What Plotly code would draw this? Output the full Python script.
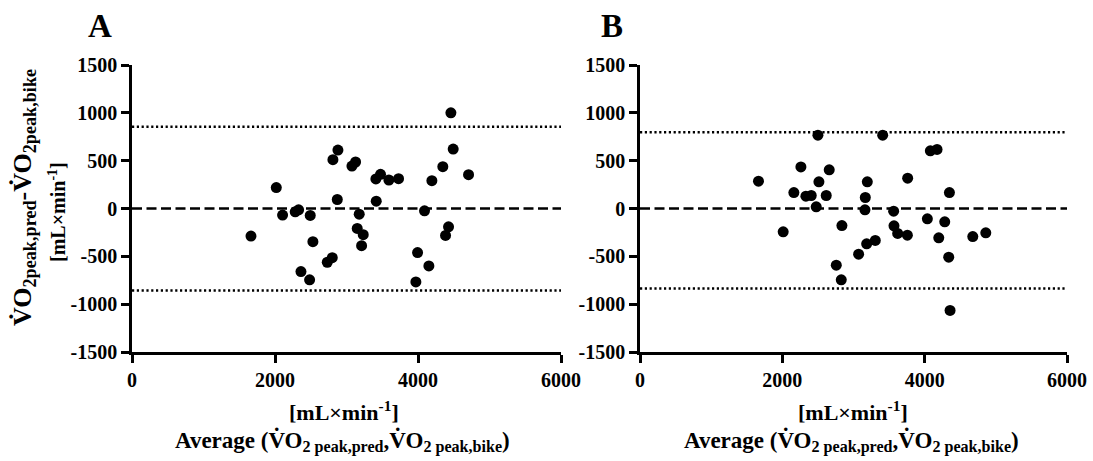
import plotly.graph_objects as go

# ---- Data ----
a_avg = [4460, 2880, 2810, 3076, 3127, 4492, 4347, 4707, 4194, 3411, 3476, 3593,
         3728, 2018, 2871, 3416, 2106, 2283, 2330, 2493, 3178, 4091, 1664, 3150,
         3234, 3211, 2530, 4427, 4385, 2731, 2801, 2363, 2484, 3994, 4152, 3970]
a_diff = [1000, 611, 510, 444, 486, 621, 437, 354, 291, 309, 357, 298,
          312, 219, 94, 76, -69, -35, -14, -73, -59, -24, -288, -208,
          -274, -389, -347, -191, -281, -562, -514, -659, -746, -461, -600, -767]
a_mean = 0
a_loa = [855, -857]

b_avg = [2500, 3410, 4080, 4174, 1665, 2261, 2659, 2514, 3194, 3761, 2162, 2331,
         2406, 2617, 3166, 4348, 2476, 3161, 3564, 4038, 4282, 2837, 2012, 3569,
         3621, 3757, 4198, 4676, 4859, 3306, 3185, 3072, 4338, 2758, 2828, 4357]
b_diff = [766, 766, 603, 617, 286, 435, 404, 279, 279, 317, 167, 129,
          136, 136, 115, 167, 17, -14, -28, -108, -139, -178, -244, -181,
          -261, -279, -307, -293, -254, -334, -369, -477, -509, -592, -746, -1066]
b_mean = 0
b_loa = [798, -836]

x_range = [0, 6000]
y_range = [-1500, 1500]
x_ticks = [0, 2000, 4000, 6000]
x_ticktext = ["0", "2000", "4000", "6000"]
y_ticks = [1500, 1000, 500, 0, -500, -1000, -1500]
y_ticktext = ["1500", "1000", "500", "0", "-500", "-1000", "-1500"]
panel_labels = ["A", "B"]

W, H = 1093, 461
FONT = "Liberation Serif"

fig = go.Figure()

panels = [(a_avg, a_diff, a_mean, a_loa, "x", "y"),
          (b_avg, b_diff, b_mean, b_loa, "x2", "y2")]
for avg, diff, mean, loa, xa, ya in panels:
    # limits of agreement (dotted)
    for v in loa:
        fig.add_trace(go.Scatter(x=x_range, y=[v, v], mode="lines", xaxis=xa, yaxis=ya,
                                 line=dict(color="black", width=2.5, dash="2.2px,2.6px"),
                                 showlegend=False, hoverinfo="skip"))
    # mean difference (dashed)
    fig.add_trace(go.Scatter(x=x_range, y=[mean, mean], mode="lines", xaxis=xa, yaxis=ya,
                             line=dict(color="black", width=2.5, dash="10px,4.5px"),
                             showlegend=False, hoverinfo="skip"))
    fig.add_trace(go.Scatter(x=avg, y=diff, mode="markers", xaxis=xa, yaxis=ya,
                             marker=dict(color="black", size=11, line=dict(width=0)),
                             showlegend=False, cliponaxis=False))

tickfont = dict(family=FONT, size=20, color="black")
xcommon = dict(range=x_range, tickvals=x_ticks,
               ticktext=[f"<b>{t}</b>" for t in x_ticktext],
               showline=True, linecolor="black", linewidth=2.5, ticks="outside",
               ticklen=8, tickwidth=2.5, tickcolor="black", showgrid=False,
               zeroline=False, tickfont=tickfont, mirror=False, automargin=False)
ycommon = dict(range=y_range, tickvals=y_ticks,
               ticktext=[f"<b>{t}</b>" for t in y_ticktext],
               showline=True, linecolor="black", linewidth=2.5, ticks="outside",
               ticklen=8, tickwidth=2.5, tickcolor="black", showgrid=False,
               zeroline=False, tickfont=tickfont, mirror=False, automargin=False)

ydom = [1 - 352 / H, 1 - 65 / H]
fig.update_layout(
    width=W, height=H,
    margin=dict(l=0, r=0, t=0, b=0),
    paper_bgcolor="white", plot_bgcolor="white",
    xaxis=dict(domain=[132 / W, 561 / W], anchor="y", **xcommon),
    yaxis=dict(domain=ydom, anchor="x", **ycommon),
    xaxis2=dict(domain=[640 / W, 1067 / W], anchor="y2", **xcommon),
    yaxis2=dict(domain=ydom, anchor="x2", **ycommon),
    font=dict(family=FONT, color="black"),
)

def ann(text, px, py, size, angle=0):
    fig.add_annotation(text=f"<b>{text}</b>", x=px / W, y=1 - py / H,
                       xref="paper", yref="paper",
                       xanchor="center", yanchor="middle", showarrow=False,
                       textangle=angle,
                       font=dict(family=FONT, size=size, color="black"))

V = "V\u0307"
# panel letters
ann(panel_labels[0], 100, 26, 33)
ann(panel_labels[1], 612, 26, 33)

# y-axis title (panel A)
ann(f"{V}O<sub>2peak,pred</sub>-{V}O<sub>2peak,bike</sub>", 24, 198, 26, -90)
ann("[mL\u00d7min<sup>-1</sup>]", 57, 212, 20, -90)

# x-axis titles
for cx in (344, 853):
    ann("[mL\u00d7min<sup>-1</sup>]", cx, 411, 22)
    ann(f"Average ({V}O<sub>2 peak,pred</sub>,{V}O<sub>2 peak,bike</sub>)", cx - 2, 441, 23)

fig.write_html("out.html")
